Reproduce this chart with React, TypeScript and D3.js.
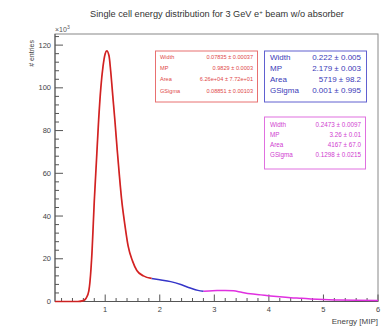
import React from "react";
import * as d3 from "d3";

const redX = [0.08, 0.5, 0.6, 0.65, 0.7, 0.72, 0.76, 0.8, 0.84, 0.88, 0.92, 0.96, 1.0, 1.03, 1.07, 1.1, 1.14, 1.18, 1.22, 1.26, 1.3, 1.36, 1.42, 1.5, 1.58, 1.7, 1.85];
const redY = [0, 0, 0.4, 1.5, 5, 9, 24, 47, 66, 85, 100, 110, 116, 117.3, 115, 108, 96, 84, 71, 59, 48, 36, 26, 19, 14.5, 12, 10.8];
const blueX = [1.85, 2.0, 2.2, 2.4, 2.56, 2.7, 2.8];
const blueY = [10.8, 10.2, 9.3, 7.8, 6.3, 5.2, 4.8];
const magX = [2.8, 2.9, 3.05, 3.2, 3.35, 3.5, 3.66, 3.85, 4.03, 4.2, 4.4, 4.6, 4.77, 5.0, 5.3, 5.6, 6.0];
const magY = [4.8, 4.9, 5.1, 5.2, 5.0, 4.3, 3.6, 3.1, 2.6, 2.2, 1.8, 1.5, 1.2, 0.9, 0.7, 0.55, 0.45];

const xTicks = [1, 2, 3, 4, 5, 6];
const yTicks = [0, 20, 40, 60, 80, 100, 120];

const redStats = [["Width", "0.07835 \u00b1 0.00037"], ["MP", "0.9829 \u00b1 0.0003"], ["Area", "6.26e+04 \u00b1 7.72e+01"], ["GSigma", "0.08851 \u00b1 0.00103"]];
const blueStats = [["Width", "0.222 \u00b1 0.005"], ["MP", "2.179 \u00b1 0.003"], ["Area", "5719 \u00b1 98.2"], ["GSigma", "0.001 \u00b1 0.995"]];
const magStats = [["Width", "0.2473 \u00b1 0.0097"], ["MP", "3.26 \u00b1 0.01"], ["Area", "4167 \u00b1 67.0"], ["GSigma", "0.1298 \u00b1 0.0215"]];

const L = 55, R = 378, T = 34, B = 301.5;
const FONT = "'Liberation Sans', Arial, sans-serif";

export default function App() {
  const x = d3.scaleLinear().domain([0.08, 6]).range([L, R]);
  const y = d3.scaleLinear().domain([0, 125.2]).range([B, T]);
  const line = d3.line<number>().curve(d3.curveMonotoneX);
  const mk = (xs: number[], ys: number[]) => line(xs.map((v, i) => [x(v), y(ys[i])] as any) as any) || "";

  const xMinor: number[] = [];
  for (let v = 0.2; v <= 6.001; v += 0.2) if (Math.abs(v - Math.round(v)) > 0.01) xMinor.push(v);
  const yMinor: number[] = [];
  for (let v = 4; v <= 124; v += 4) if (v % 20 !== 0) yMinor.push(v);

  const box = (stats: string[][], bx: number, by: number, bw: number, bh: number, color: string, txt: string, fs: number, rows: number[], lx: number, rx: number) => (
    <g>
      <rect x={bx} y={by} width={bw} height={bh} fill="white" stroke={color} strokeWidth={1} />
      {stats.map((s, i) => (
        <g key={i} fontSize={fs} fill={txt} fontFamily={FONT}>
          <text x={lx} y={rows[i]}>{s[0]}</text>
          <text x={rx} y={rows[i]} textAnchor="end">{s[1]}</text>
        </g>
      ))}
    </g>
  );

  return (
    <svg width={389} height={326} style={{ position: "absolute", left: 0, top: 0, background: "white" }}>
      <text x={217} y={17} fontSize={9.2} fontFamily={FONT} fill="#333" textAnchor="middle">
        Single cell energy distribution for 3 GeV e<tspan dy={-3} fontSize={6}>+</tspan><tspan dy={3}> beam w/o absorber</tspan>
      </text>
      <rect x={L} y={T} width={R - L} height={B - T} fill="white" stroke="#888" strokeWidth={1} />
      {xTicks.map(v => <line key={"xt" + v} x1={x(v)} x2={x(v)} y1={B} y2={B - 7} stroke="#555" />)}
      {xMinor.map((v, i) => <line key={"xm" + i} x1={x(v)} x2={x(v)} y1={B} y2={B - 3.5} stroke="#555" />)}
      {yTicks.map(v => <line key={"yt" + v} x1={L} x2={L + 8} y1={y(v)} y2={y(v)} stroke="#555" />)}
      {yMinor.map((v, i) => <line key={"ym" + i} x1={L} x2={L + 4} y1={y(v)} y2={y(v)} stroke="#555" />)}
      <line x1={L} x2={L} y1={T} y2={B} stroke="#555" />
      <line x1={L} x2={R} y1={B} y2={B} stroke="#555" />
      {xTicks.map(v => <text key={"xl" + v} x={x(v)} y={312} fontSize={7.5} fontFamily={FONT} fill="#444" textAnchor="middle">{v}</text>)}
      {yTicks.map(v => <text key={"yl" + v} x={51} y={y(v) + 2.6} fontSize={7.5} fontFamily={FONT} fill="#444" textAnchor="end">{v}</text>)}
      <text x={55} y={32} fontSize={7} fontFamily={FONT} fill="#555">×10<tspan dy={-3} fontSize={5}>3</tspan></text>
      <text transform="translate(34,40) rotate(-90)" fontSize={7} fontFamily={FONT} fill="#444" textAnchor="end"># entries</text>
      <text x={378} y={324} fontSize={8} fontFamily={FONT} fill="#444" textAnchor="end">Energy [MIP]</text>
      <path d={mk(magX, magY)} fill="none" stroke="#e030e0" strokeWidth={1.5} />
      <path d={mk(blueX, blueY)} fill="none" stroke="#3535c8" strokeWidth={1.5} />
      <path d={mk(redX, redY)} fill="none" stroke="#e02828" strokeWidth={1.7} />
      <path d={mk(redX, redY)} fill="none" stroke="#8a1010" strokeWidth={0.4} strokeOpacity={0.6} />
      {box(redStats, 155.5, 51, 102, 51, "#e87070", "#e04848", 5.6, [59, 70, 81, 93], 160, 253)}
      {box(blueStats, 264.5, 51, 102, 51, "#6060d0", "#3a3ab8", 8, [60, 71, 82, 93], 270, 361)}
      {box(magStats, 264.5, 117, 101, 52, "#e070e0", "#d040d0", 6.3, [127, 137, 147, 157], 270, 361)}
    </svg>
  );
}
